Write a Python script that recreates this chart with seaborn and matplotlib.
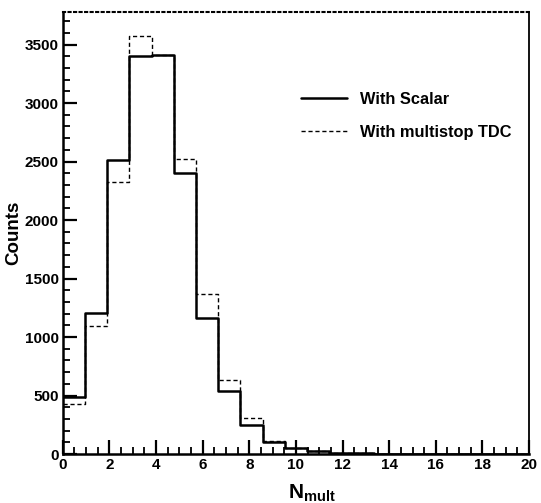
import numpy as np
import pandas as pd
import matplotlib
matplotlib.use("Agg")
import matplotlib.pyplot as plt
import seaborn as sns
from matplotlib.ticker import MultipleLocator
from matplotlib.lines import Line2D

# Data (multiplicity bins 0..20)
n_mult = list(range(21))
scalar_counts = [490, 1205, 2510, 3405, 3410, 2400, 1165, 540, 250, 105, 48, 22, 10, 6, 4, 3, 2, 1, 1, 0, 0]
tdc_counts = [428, 1095, 2325, 3570, 3410, 2520, 1365, 630, 305, 115, 55, 25, 12, 7, 4, 3, 2, 1, 1, 0, 0]
series_labels = ["With Scalar", "With multistop TDC"]

sns.set_style("ticks")
plt.rcParams["font.family"] = ["Liberation Sans", "DejaVu Sans"]
plt.rcParams["font.weight"] = "bold"
plt.rcParams["text.color"] = "black"
plt.rcParams["axes.labelcolor"] = "black"
plt.rcParams["xtick.color"] = "black"
plt.rcParams["ytick.color"] = "black"
plt.rcParams["axes.edgecolor"] = "black"
plt.rcParams["mathtext.fontset"] = "custom"
plt.rcParams["mathtext.bf"] = "Liberation Sans:bold"
plt.rcParams["mathtext.rm"] = "Liberation Sans:bold"

df = pd.DataFrame({
    "N": n_mult * 2,
    "counts": scalar_counts + tdc_counts,
    "series": [series_labels[0]] * len(n_mult) + [series_labels[1]] * len(n_mult),
})

fig = plt.figure(figsize=(5.41, 5.03), dpi=100)
ax = fig.add_axes([0.116, 0.0974, 0.862, 0.879])

nb = len(n_mult)
sns.histplot(data=df[df.series == series_labels[1]], x="N", weights="counts", bins=nb,
             binrange=(0, 20), element="step", fill=False, color="black",
             linewidth=1.0, linestyle=(0, (3, 2)), ax=ax)
sns.histplot(data=df[df.series == series_labels[0]], x="N", weights="counts", bins=nb,
             binrange=(0, 20), element="step", fill=False, color="black",
             linewidth=1.8, ax=ax)

ax.set_xlim(0, 20)
ax.set_ylim(0, 3780)
ax.xaxis.set_major_locator(MultipleLocator(2))
ax.xaxis.set_minor_locator(MultipleLocator(0.5))
ax.yaxis.set_major_locator(MultipleLocator(500))
ax.yaxis.set_minor_locator(MultipleLocator(100))
ax.tick_params(axis="both", which="major", direction="in", length=10, width=1.6,
               labelsize=11, top=False, right=False, pad=3, colors="black")
ax.tick_params(axis="both", which="minor", direction="in", length=5, width=1.3,
               top=False, right=False, colors="black")
for lab in ax.get_xticklabels() + ax.get_yticklabels():
    lab.set_fontweight("bold")

for s in ["left", "bottom"]:
    ax.spines[s].set_linewidth(1.8)
ax.spines["right"].set_linewidth(1.3)
ax.spines["top"].set_linewidth(1.5)
ax.spines["top"].set_linestyle(":")

ax.set_xlabel(r"$\mathbf{N}_{\mathbf{mult}}$", fontsize=15, fontweight="bold", labelpad=0)
ax.xaxis.set_label_coords(0.535, -0.065)
ax.set_ylabel("Counts", fontsize=13.5, fontweight="bold", labelpad=2)

handles = [Line2D([], [], color="black", linewidth=1.8),
           Line2D([], [], color="black", linewidth=1.0, linestyle=(0, (3, 2)))]
leg = ax.legend(handles, series_labels, loc="upper left", bbox_to_anchor=(0.48, 0.852),
                frameon=False, handlelength=2.8, handletextpad=0.8, labelspacing=1.1,
                prop={"weight": "bold", "size": 11.8})

fig.savefig("out.png", dpi=100)
